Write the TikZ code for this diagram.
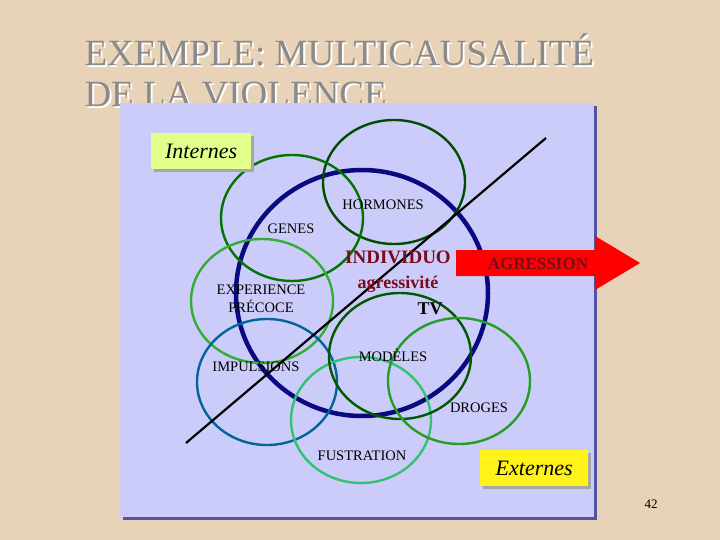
\documentclass[tikz,border=0pt]{standalone}
\usepackage{fontspec}
\setmainfont{Liberation Serif}

\definecolor{beige}{HTML}{E8D3B9}
\definecolor{panel}{HTML}{CCCCFA}
\definecolor{navy}{HTML}{0A0A80}
\definecolor{titlegrey}{HTML}{8A8A8A}
\definecolor{wine}{HTML}{7A0A1E}

\tikzset{
  ring/.style={line width=2.4pt},
  cause/.style={font=\fontsize{14.5}{15}\selectfont},
  tag/.style={font=\fontsize{22}{24}\selectfont\itshape, draw=none, inner sep=5pt, minimum height=36pt},
  titletext/.style={anchor=west, text=titlegrey, font=\fontsize{37}{40}\selectfont}
}

\begin{document}
\begin{tikzpicture}[x=1pt,y=-1pt]

\fill[beige] (0,0) rectangle (720,540);
\useasboundingbox (0,0) rectangle (720,540);

% title
\node[titletext, text=white] at (83,52) {EXEMPLE: MULTICAUSALITÉ};
\node[titletext] (title1) at (81,50) {EXEMPLE: MULTICAUSALITÉ};
\node[titletext, text=white] at (83,97) {DE LA VIOLENCE};
\node[titletext] (title2) at (81,95) {DE LA VIOLENCE};

% panel
\fill[navy!70] (123,106) rectangle (597,520);
\fill[panel] (120,103) rectangle (594,517);

% circles
\draw[ring, draw=navy, line width=4.5pt] (362,293) ellipse (126 and 123);
\draw[ring, draw=green!30!black] (394,182) ellipse (71 and 62);
\draw[ring, draw=green!45!black] (292,218) ellipse (71 and 63);
\draw[ring, draw=green!60!black!80!white] (262,301) ellipse (71 and 62);
\draw[ring, draw=teal!80!blue] (267,382) ellipse (70 and 63);
\draw[ring, draw=green!70!blue!80!white] (361,420) ellipse (70 and 63);
\draw[ring, draw=green!35!black] (400,356) ellipse (71 and 63);
\draw[ring, draw=green!55!black!85!white] (459,381) ellipse (71 and 63);

% diagonal
\coordinate (lo) at (186,443);
\coordinate (hi) at (546,138);
\draw[line width=2.2pt] (lo) -- (hi);

% arrow
\fill[red] (456,250) -- (595,250) -- (595,236) -- (640,263) -- (595,290) -- (595,276) -- (456,276) -- cycle;
\node[font=\fontsize{17}{18}\selectfont\bfseries, text=wine] (aggrtxt) at (538,264) {AGRESSION};

% labels
\node[cause] (horm) at (383,205) {HORMONES};
\node[cause] (genes) at (291,229) {GENES};
\node[cause, align=center, font=\fontsize{14.5}{18}\selectfont] (exper) at (261,299) {EXPERIENCE\\PRÉCOCE};
\node[cause] (impul) at (256,367) {IMPULSIONS};
\node[cause] (model) at (393,355) {MODÈLES};
\node[cause] (drog) at (479,408) {DROGES};
\node[cause] (fust) at (362,456) {FUSTRATION};
\node[font=\fontsize{19}{20}\selectfont\bfseries, text=wine] (indiv) at (398,257) {INDIVIDUO};
\node[font=\fontsize{18}{20}\selectfont\bfseries, text=wine] (agr) at (398,284) {agressivité};
\node[font=\fontsize{18}{20}\selectfont\bfseries] (tv) at (430,309) {TV};

% boxes
\fill[black!35] (154,136) rectangle (254,172);
\node[tag, fill=green!25!yellow!45, minimum width=100pt, anchor=north west] (intern) at (151,133) {Internes};
\fill[black!35] (483,453) rectangle (591,489);
\node[tag, fill=yellow!90!white, minimum width=108pt, anchor=north west] (extern) at (480,450) {Externes};

\node[font=\fontsize{13}{14}\selectfont] (page) at (651,504) {42};

\end{tikzpicture}
\end{document}
